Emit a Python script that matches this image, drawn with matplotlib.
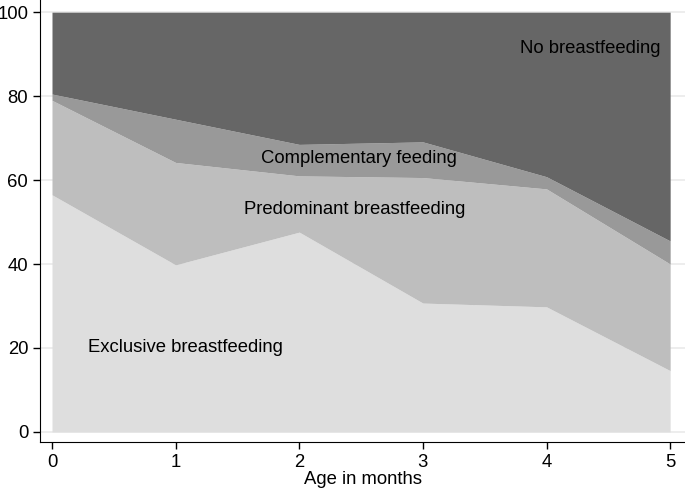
import numpy as np
import matplotlib.pyplot as plt

plt.rcParams['font.family'] = ['Liberation Sans', 'DejaVu Sans']

# age in months and cumulative boundaries (percent)
age = [0, 1, 2, 3, 4, 5]
exclusive = [56.5, 39.8, 47.6, 30.7, 29.8, 14.6]
predominant_top = [79.0, 64.2, 61.0, 60.6, 57.9, 40.0]
complementary_top = [80.5, 74.5, 68.5, 69.1, 60.8, 45.5]
total = [100, 100, 100, 100, 100, 100]

labels = ["Exclusive breastfeeding", "Predominant breastfeeding",
          "Complementary feeding", "No breastfeeding"]
colors = ["#dedede", "#bebebe", "#999999", "#666666"]

fig = plt.figure(figsize=(6.85, 4.94), dpi=100)
ax = fig.add_axes([40/685, 52/494, 645/685, 442/494])

lower = [0]*6
uppers = [exclusive, predominant_top, complementary_top, total]
for up, c in zip(uppers, colors):
    ax.fill_between(age, lower, up, color=c, linewidth=0, zorder=2)
    lower = up

# labels inside areas
fs = 13.3
ax.text(1.08, 20.2, labels[0], ha='center', va='center', fontsize=fs)
ax.text(2.45, 53.1, labels[1], ha='center', va='center', fontsize=fs)
ax.text(2.48, 65.2, labels[2], ha='center', va='center', fontsize=fs)
ax.text(4.35, 91.4, labels[3], ha='center', va='center', fontsize=fs)

ax.set_xlim(-0.097, 5.12)
ax.set_ylim(-2.4, 102.9)
ax.set_xticks(age)
ax.set_yticks([0, 20, 40, 60, 80, 100])
ax.yaxis.grid(True, color='#eaeaea', linewidth=1.2, zorder=0)
ax.set_axisbelow(True)
ax.spines['top'].set_visible(False)
ax.spines['right'].set_visible(False)
ax.tick_params(labelsize=fs, length=5, width=1, direction='out')
ax.set_xlabel("Age in months", fontsize=fs, labelpad=0)

fig.savefig("out.png", dpi=100)
